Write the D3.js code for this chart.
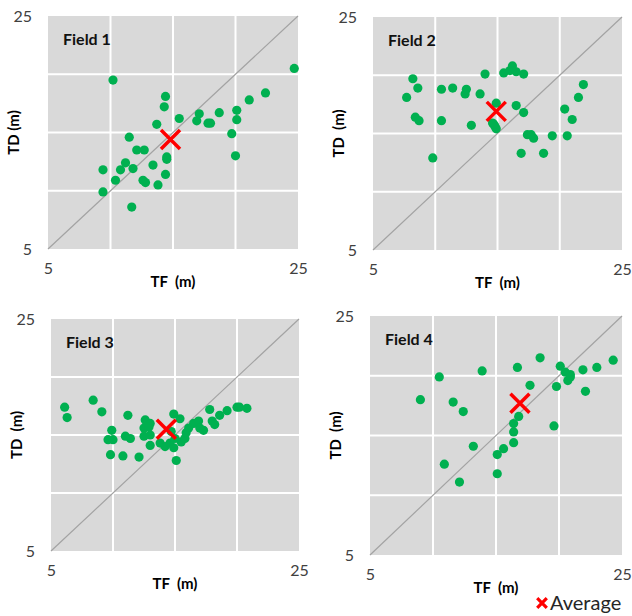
<!DOCTYPE html>
<html>
<head>
<meta charset="utf-8">
<script src="https://cdn.jsdelivr.net/npm/d3@7"></script>
<style>
  body { margin: 0; background: #fff; }
  text { font-family: Lato, "Open Sans", sans-serif; }
</style>
</head>
<body>
<div id="chart"></div>
<script>
// ---- data ----
const fieldNames = ["Field 1", "Field 2", "Field 3", "Field 4"];
const axisTicks = [5, 25];
const gridValues = [10, 15, 20];

const field1TF = [10.2, 24.7, 9.4, 9.4, 10.4, 10.8, 11.2, 11.8, 11.5, 12.1, 12.7, 11.7, 12.6, 12.8, 13.4, 13.8, 13.7, 14.4, 14.5, 14.5, 14.3, 14.4, 15.5, 16.9, 17.1, 17.8, 18.0, 18.7, 19.7, 20.0, 20.1, 20.1, 21.1, 22.4];
const field1TD = [19.5, 20.5, 11.8, 9.9, 10.9, 11.8, 12.4, 11.9, 14.6, 13.5, 13.5, 8.6, 10.9, 10.7, 12.2, 10.5, 15.7, 11.4, 12.7, 12.9, 17.2, 18.1, 16.2, 16.0, 16.6, 15.8, 15.8, 16.7, 14.9, 13.0, 16.9, 16.1, 17.8, 18.4];

const field2TF = [8.2, 8.6, 7.7, 8.4, 8.7, 10.5, 10.5, 11.4, 12.5, 12.4, 13.6, 14.0, 12.9, 9.8, 14.9, 14.6, 14.8, 14.9, 14.7, 15.5, 16.0, 16.2, 16.5, 17.1, 16.5, 17.1, 16.9, 17.4, 17.7, 17.9, 18.7, 19.4, 20.4, 20.6, 21.0, 21.5, 21.9];
const field2TD = [19.7, 18.9, 18.1, 16.4, 16.1, 18.8, 16.1, 18.9, 18.8, 18.4, 18.4, 20.1, 15.7, 12.9, 17.6, 15.9, 15.6, 15.4, 15.8, 20.2, 20.4, 20.8, 20.3, 20.1, 17.4, 16.8, 13.3, 14.9, 14.9, 14.6, 13.3, 14.8, 17.1, 14.8, 16.2, 18.1, 19.2];

const field3TF = [6.1, 6.3, 8.4, 9.1, 9.9, 9.6, 10.0, 9.8, 10.8, 11.0, 11.4, 11.2, 12.1, 12.6, 13.0, 12.5, 12.9, 12.5, 13.0, 13.0, 13.8, 14.2, 14.9, 15.4, 14.7, 15.0, 14.6, 14.9, 15.1, 15.5, 15.8, 15.9, 16.1, 16.5, 16.9, 17.0, 17.3, 17.8, 18.0, 18.2, 18.6, 19.2, 20.0, 20.2, 20.8];
const field3TD = [17.4, 16.5, 18.0, 17.0, 15.4, 14.6, 14.6, 13.3, 13.2, 14.9, 14.7, 16.7, 13.1, 16.3, 16.0, 15.6, 15.7, 14.9, 15.0, 14.1, 14.3, 14.0, 16.8, 16.4, 15.3, 14.7, 14.3, 13.9, 12.8, 14.4, 14.7, 15.2, 15.6, 16.0, 16.2, 15.6, 15.4, 17.2, 16.2, 15.9, 16.7, 17.1, 17.4, 17.4, 17.3];

const field4TF = [9.0, 10.5, 10.9, 11.6, 12.4, 12.1, 13.2, 13.9, 15.1, 15.1, 15.6, 16.4, 16.4, 16.4, 16.8, 16.7, 17.7, 18.5, 19.6, 19.8, 20.1, 20.5, 20.9, 20.9, 20.7, 21.9, 22.1, 23.0, 24.3];
const field4TD = [18.0, 19.9, 12.6, 17.8, 17.0, 11.1, 14.1, 20.4, 13.4, 11.8, 13.9, 14.4, 15.3, 16.0, 16.6, 20.7, 19.2, 21.5, 15.8, 19.1, 20.8, 20.3, 20.1, 19.9, 19.6, 20.5, 18.7, 20.7, 21.3];

const averageTF = [14.8, 14.9, 14.3, 16.9];
const averageTD = [14.4, 16.9, 15.5, 17.7];

const fieldTF = [field1TF, field2TF, field3TF, field4TF];
const fieldTD = [field1TD, field2TD, field3TD, field4TD];

// ---- layout ----
const width = 632, height = 616;
const boxes = [
  { x0: 48, x1: 298, y0: 16, y1: 249, yTitle: "TD (m)" },
  { x0: 373, x1: 622, y0: 17, y1: 250, yTitle: "TD  (m)" },
  { x0: 51, x1: 299, y0: 319, y1: 551, yTitle: "TD  (m)" },
  { x0: 370, x1: 622, y0: 316, y1: 555, yTitle: "TD  (m)" },
];

const svg = d3.select("#chart").append("svg")
  .attr("width", width)
  .attr("height", height);

function drawX(g, cx, cy, r, w) {
  g.append("path")
    .attr("d", `M${cx - r},${cy - r}L${cx + r},${cy + r}M${cx - r},${cy + r}L${cx + r},${cy - r}`)
    .attr("stroke", "#ff0000")
    .attr("stroke-width", w)
    .attr("fill", "none");
}

boxes.forEach((b, i) => {
  const x = d3.scaleLinear().domain([5, 25]).range([b.x0, b.x1]);
  const y = d3.scaleLinear().domain([5, 25]).range([b.y1, b.y0]);
  const g = svg.append("g");

  g.append("rect")
    .attr("x", b.x0).attr("y", b.y0)
    .attr("width", b.x1 - b.x0).attr("height", b.y1 - b.y0)
    .attr("fill", "#d9d9d9");

  g.selectAll(".vgrid").data(gridValues).join("line")
    .attr("x1", (d) => x(d)).attr("x2", (d) => x(d))
    .attr("y1", b.y0).attr("y2", b.y1)
    .attr("stroke", "#fff").attr("stroke-width", 2);

  g.selectAll(".hgrid").data(gridValues).join("line")
    .attr("y1", (d) => y(d)).attr("y2", (d) => y(d))
    .attr("x1", b.x0).attr("x2", b.x1)
    .attr("stroke", "#fff").attr("stroke-width", 2);

  // 1:1 line
  g.append("line")
    .attr("x1", x(5)).attr("y1", y(5))
    .attr("x2", x(25)).attr("y2", y(25))
    .attr("stroke", "#a3a3a3").attr("stroke-width", 1.2);

  const pts = fieldTF[i].map((tf, k) => ({ tf, td: fieldTD[i][k] }));
  g.selectAll("circle").data(pts).join("circle")
    .attr("cx", (d) => x(d.tf))
    .attr("cy", (d) => y(d.td))
    .attr("r", 4.6)
    .attr("fill", "#00b050");

  drawX(g, x(averageTF[i]), y(averageTD[i]), 9.5, 3.5);

  g.append("text")
    .attr("x", b.x0 + 15).attr("y", b.y0 + 29)
    .attr("font-size", 16).attr("font-weight", "bold")
    .attr("fill", "#111")
    .text(fieldNames[i]);

  // axes: only end labels
  const left = g.append("g")
    .attr("transform", `translate(${b.x0},0)`)
    .call(d3.axisLeft(y).tickValues(axisTicks).tickSize(0).tickPadding(16));
  const bottom = g.append("g")
    .attr("transform", `translate(0,${b.y1})`)
    .call(d3.axisBottom(x).tickValues(axisTicks).tickSize(0).tickPadding(14));
  [left, bottom].forEach((a) => {
    a.select(".domain").remove();
    a.selectAll("text")
      .attr("font-size", 16)
      .attr("font-family", "Lato, 'Open Sans', sans-serif")
      .attr("fill", "#404040");
  });

  g.append("text")
    .attr("x", (b.x0 + b.x1) / 2).attr("y", b.y1 + 38)
    .attr("text-anchor", "middle")
    .attr("font-size", 15).attr("font-weight", "bold")
    .style("white-space", "pre")
    .text("TF  (m)");

  g.append("text")
    .attr("transform", `translate(${b.x0 - 29},${(b.y0 + b.y1) / 2}) rotate(-90)`)
    .attr("text-anchor", "middle")
    .attr("font-size", 15).attr("font-weight", "bold")
    .style("white-space", "pre")
    .text(b.yTitle);
});

// legend
const legend = svg.append("g");
drawX(legend, 542, 603, 4.8, 3.2);
legend.append("text")
  .attr("x", 550).attr("y", 610)
  .attr("font-size", 20)
  .attr("fill", "#262626")
  .text("Average");
</script>
</body>
</html>
